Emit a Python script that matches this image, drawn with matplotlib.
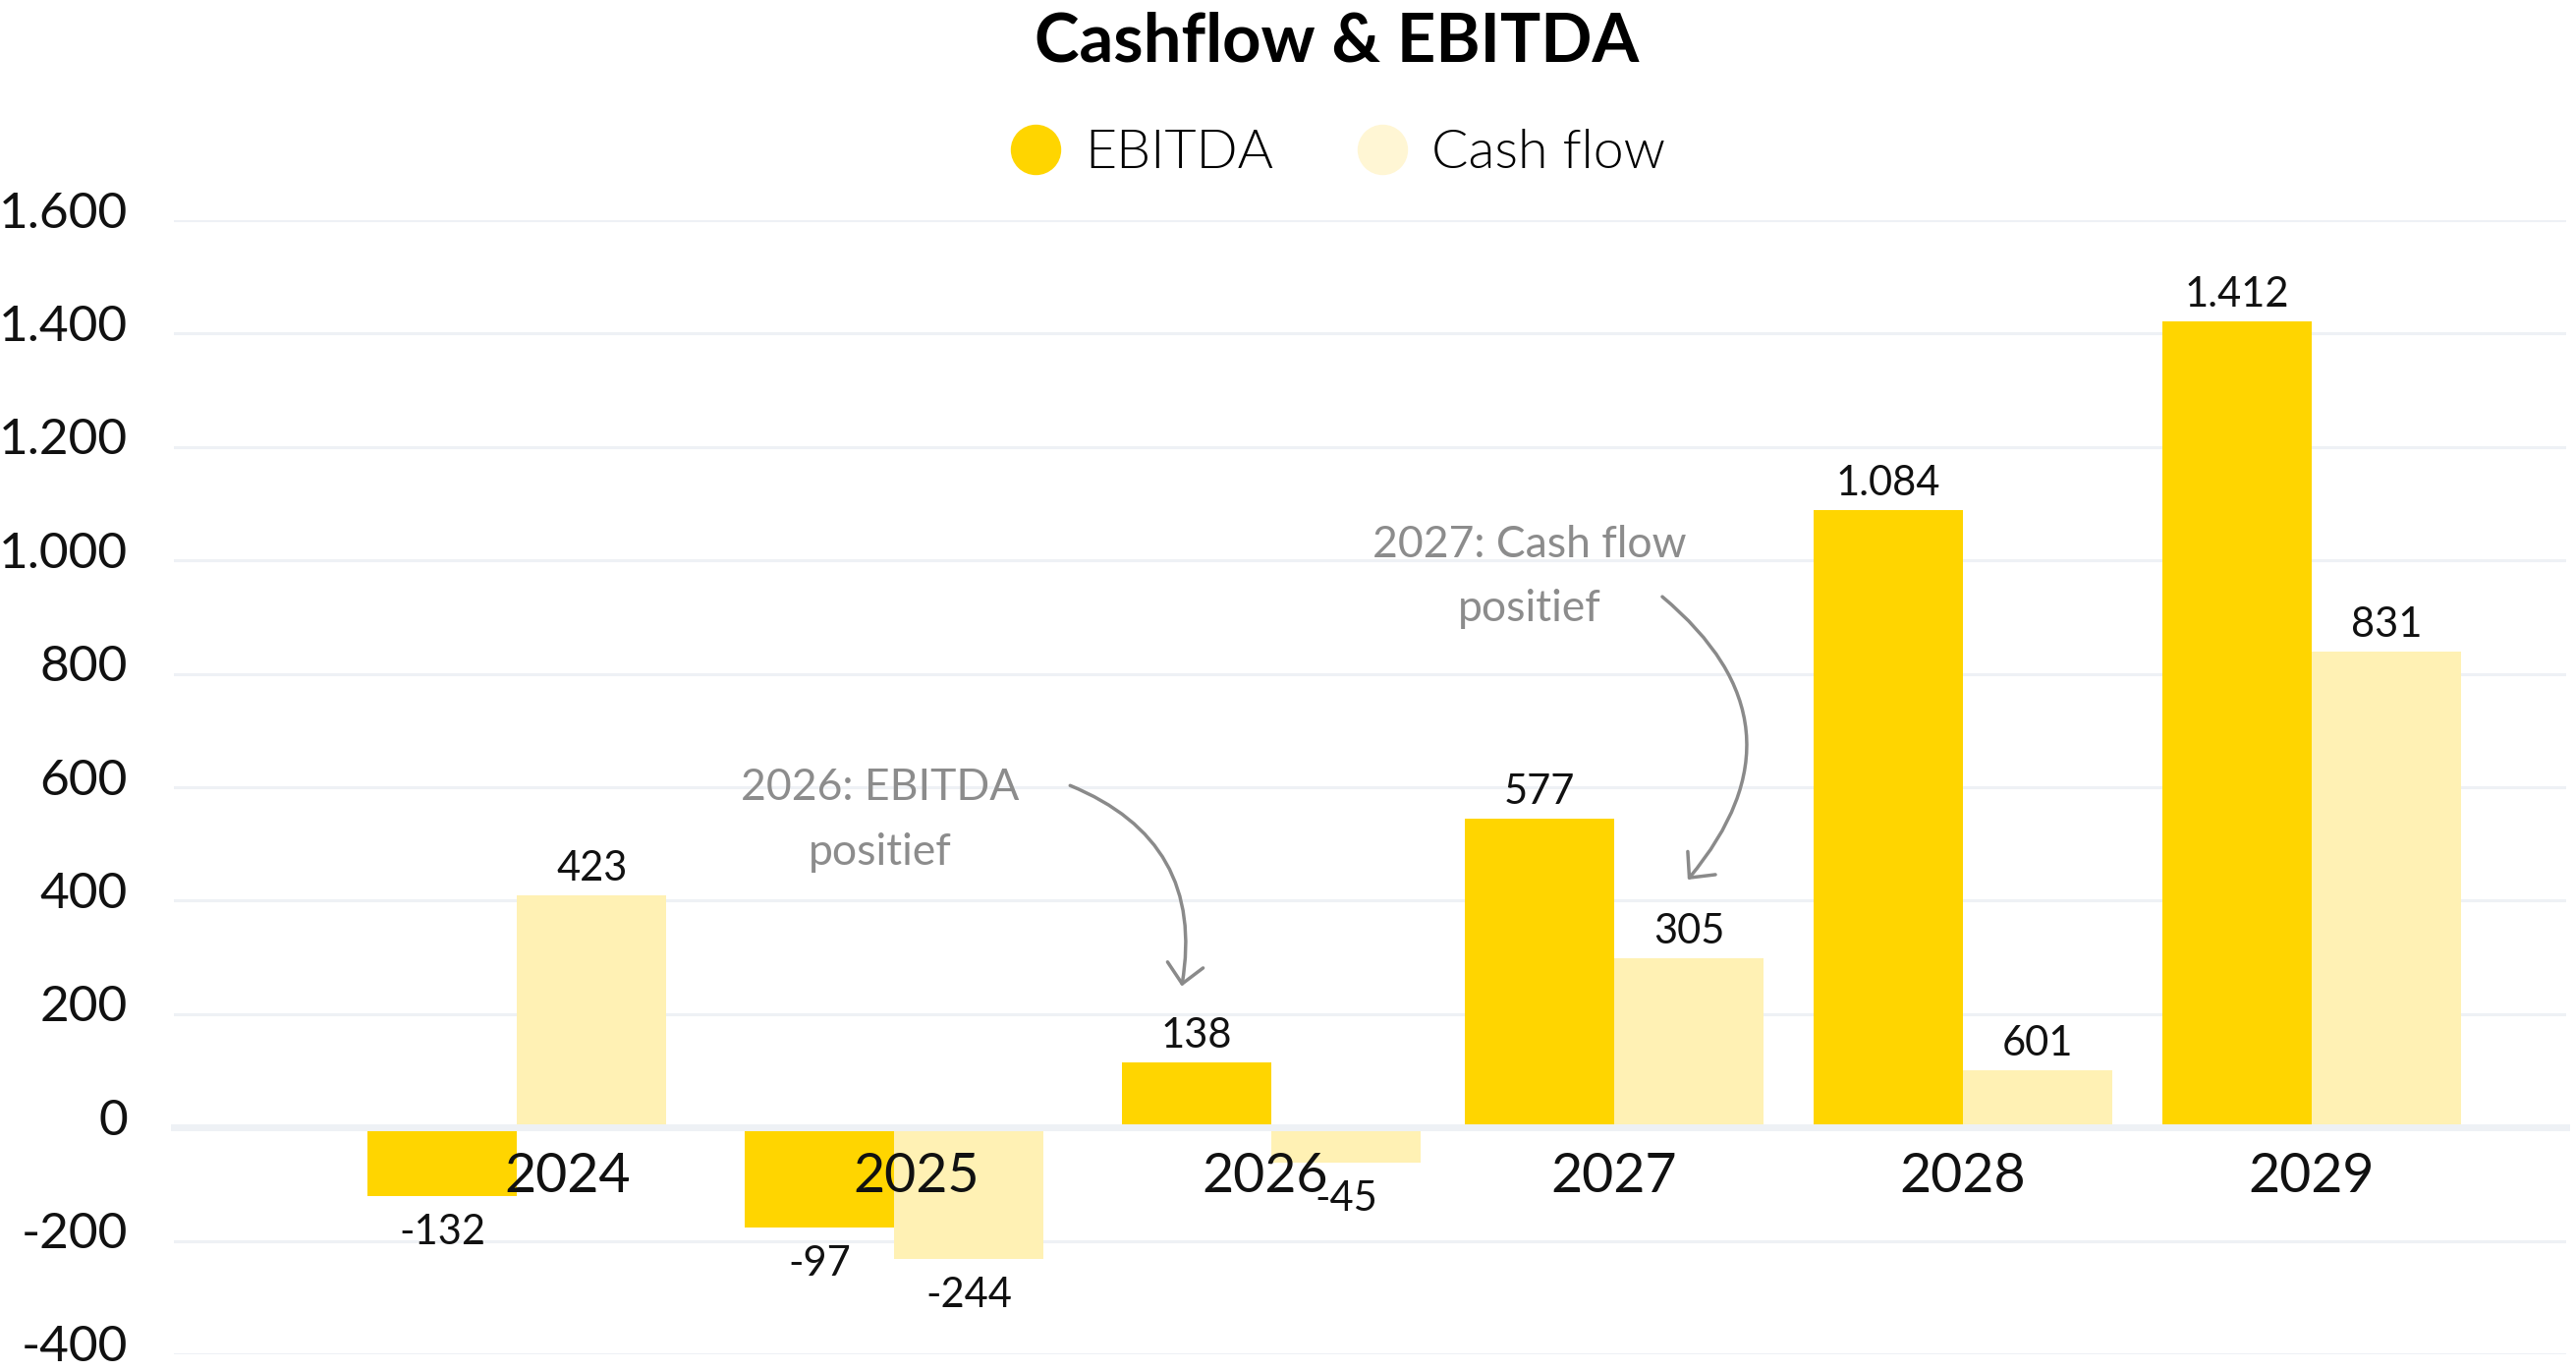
import numpy as np
import matplotlib
matplotlib.use("Agg")
import matplotlib.pyplot as plt
from matplotlib.lines import Line2D
from matplotlib.ticker import FuncFormatter
from matplotlib.transforms import ScaledTranslation

## data
years = ["2024", "2025", "2026", "2027", "2028", "2029"]
ebitda_bar = [-121, -177, 114, 545, 1088, 1422]     # bar heights as drawn
cashflow_bar = [409, -232, -62, 298, 100, 839]
ebitda_label = [-132, -97, 138, 577, 1084, 1412]    # printed values
cashflow_label = [423, -244, -45, 305, 601, 831]

## layout
group_shift = [-0.146, -0.065, 0.017, 0, 0, 0]   # groups are not evenly placed in the original
bar_w = 0.428

yellow = "#FFD500"
light = "#FFF1B4"
grey = "#8c8c8c"
grid_col = "#EEF1F5"

plt.rcParams["font.family"] = ["Lato", "DejaVu Sans"]


def dots(v, pos=None):
    return f"{v:,.0f}".replace(",", ".")


fig = plt.figure(figsize=(26.22, 13.95), dpi=100)
ax = fig.add_axes([0.0675, 0.0122, 0.9287, 0.8272])

x = np.arange(len(years)) + np.array(group_shift)
b1 = ax.bar(x - bar_w / 2, ebitda_bar, bar_w, color=yellow, zorder=1)
b2 = ax.bar(x + bar_w / 2, cashflow_bar, bar_w, color=light, zorder=1)

for bars, labels in [(b1, ebitda_label), (b2, cashflow_label)]:
    for rect, lab in zip(bars, labels):
        h = rect.get_height()
        off = 19.5 if h >= 0 else -26.5
        ax.annotate(dots(lab), (rect.get_x() + rect.get_width() / 2, h),
                    xytext=(0, off), textcoords="offset points",
                    ha="center", va="center", fontsize=30, color="#111111")

ax.set_xlim(-1.13, 5.73)
ax.set_ylim(-400, 1600)
ax.set_yticks(np.arange(-400, 1601, 200))
ax.yaxis.set_major_formatter(FuncFormatter(dots))
ax.set_xticks(np.arange(len(years)))
ax.set_xticklabels(years)

ax.grid(axis="y", color=grid_col, linewidth=2.2)
ax.set_axisbelow(True)
ax.xaxis.set_zorder(4)   # year labels sit on top of the bars
for s in ["top", "right", "left"]:
    ax.spines[s].set_visible(False)
ax.spines["bottom"].set_position(("data", 0))
ax.spines["bottom"].set_color(grid_col)
ax.spines["bottom"].set_linewidth(5)
ax.spines["bottom"].set_zorder(3)

ax.tick_params(axis="y", length=0, pad=34, labelsize=37, labelcolor="#111111")
ax.tick_params(axis="x", length=0, pad=18, labelsize=40, labelcolor="#111111")
up = ScaledTranslation(0, 0.11, fig.dpi_scale_trans)
for lab in ax.get_yticklabels():
    lab.set_transform(lab.get_transform() + up)

## notes with arrows
ax.text(0.896, 542, "2026: EBITDA\npositief", ha="center", va="center",
        fontsize=32, color=grey, linespacing=1.75)
ax.annotate("", xy=(1.76, 249), xytext=(1.44, 603),
            arrowprops=dict(arrowstyle="->,head_length=0.35,head_width=0.33",
                            connectionstyle="arc3,rad=-0.4", color="#8a8a8a",
                            lw=2.5, shrinkA=0, shrinkB=0, mutation_scale=40))
ax.text(2.758, 971, "2027: Cash flow\npositief", ha="center", va="center",
        fontsize=32, color=grey, linespacing=1.75)
ax.annotate("", xy=(3.211, 437), xytext=(3.138, 936),
            arrowprops=dict(arrowstyle="->,head_length=0.35,head_width=0.33",
                            connectionstyle="arc3,rad=-0.5", color="#8a8a8a",
                            lw=2.5, shrinkA=0, shrinkB=0, mutation_scale=40))

## title and legend
fig.text(0.519, 0.969, "Cashflow & EBITDA", ha="center", va="center",
         fontsize=49.5, fontweight="bold")
handles = [Line2D([], [], marker="o", ls="", markersize=36, color=yellow),
           Line2D([], [], marker="o", ls="", markersize=36, color="#FFF6D4")]
fig.legend(handles, ["EBITDA", "Cash flow"], loc="center", bbox_to_anchor=(0.519, 0.888),
           ncol=2, frameon=False, handletextpad=0.4, columnspacing=1.5, handlelength=1,
           prop={"size": 40, "weight": 300})

fig.savefig("out.png", dpi=100)
